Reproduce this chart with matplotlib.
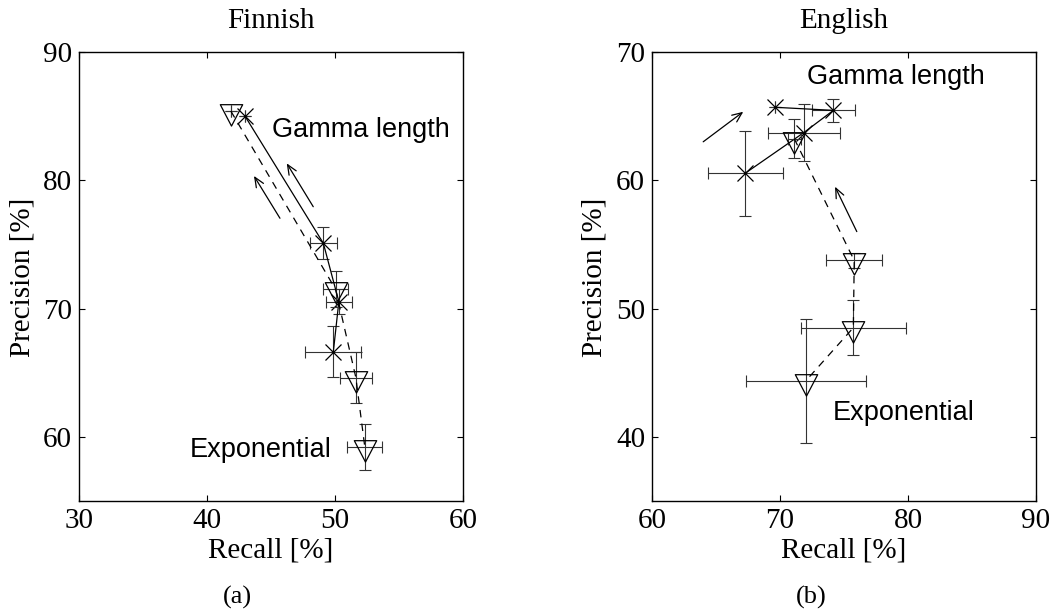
import numpy as np
import matplotlib
matplotlib.use("Agg")
import matplotlib.pyplot as plt
from matplotlib.path import Path

# ---- data ----
# Finnish, Gamma length (x markers, solid line)
fi_gam_rec = [42.97, 49.09, 50.30, 49.87]
fi_gam_pre = [85.00, 75.09, 70.54, 66.64]
fi_gam_xerr = [0.0, 1.04, 1.00, 2.20]
fi_gam_yerr = [0.0, 1.25, 1.00, 2.00]
# Finnish, Exponential (triangles, dashed line)
fi_exp_rec = [41.86, 50.05, 51.63, 52.33]
fi_exp_pre = [85.40, 71.49, 64.62, 59.20]
fi_exp_xerr = [0.0, 1.00, 1.24, 1.37]
fi_exp_yerr = [0.0, 1.40, 2.00, 1.80]

# English, Gamma length
en_gam_rec = [69.61, 74.17, 71.85, 67.27]
en_gam_pre = [65.69, 65.45, 63.71, 60.54]
en_gam_xerr = [0.0, 1.70, 2.80, 2.93]
en_gam_yerr = [0.0, 0.87, 2.20, 3.30]
# English, Exponential
en_exp_rec = [71.11, 75.80, 75.73, 72.00]
en_exp_pre = [63.25, 53.75, 48.51, 44.35]
en_exp_xerr = [0.5, 2.20, 4.10, 4.69]
en_exp_yerr = [1.55, 0.60, 2.15, 4.85]

# arrows: (x_from, y_from, x_to, y_to)
fi_arrows = [(48.3, 77.94, 46.23, 81.32), (45.7, 77.04, 43.67, 80.34)]
en_arrows = [(64.0, 63.0, 67.13, 65.34), (76.0, 56.0, 74.3, 59.5)]

# label anchors (left, middle)
fi_labels = [("Gamma length", 45.05, 83.92), ("Exponential", 38.62, 59.0)]
en_labels = [("Gamma length", 72.08, 68.08), ("Exponential", 74.1, 41.85)]

W, H = 1056, 612
serif = "Liberation Serif"
sans = "Liberation Sans"

# down triangle with its centroid on the data point (matlab style)
tri = Path([(-0.767, 0.467), (0.767, 0.467), (0.0, -1.0), (-0.767, 0.467)],
           [Path.MOVETO, Path.LINETO, Path.LINETO, Path.CLOSEPOLY])


def px(x0, y0, w, h):
    return [x0 / W, 1 - (y0 + h) / H, w / W, h / H]


def draw_series(ax, x, y, xerr, yerr, marker, ls, ms):
    ax.errorbar(x, y, xerr=xerr, yerr=yerr, fmt='none', ecolor='0.2',
                elinewidth=0.8, capsize=4.3, capthick=0.8)
    ax.plot(x, y, ls=ls, color='k', lw=0.9, dashes=(6, 5) if ls == '--' else (None, None))
    ax.plot(x, y, ls='none', marker=marker, ms=ms, mec='k', mfc='none', mew=0.9)


def setup(ax, xlim, ylim, xt, yt):
    ax.set_xlim(xlim)
    ax.set_ylim(ylim)
    ax.set_xticks(xt)
    ax.set_yticks(yt)
    ax.tick_params(direction='in', top=True, right=True, length=4, width=0.8,
                   labelsize=21, pad=5)
    for lab in ax.get_xticklabels() + ax.get_yticklabels():
        lab.set_family(serif)
    for s in ax.spines.values():
        s.set_linewidth(1.0)


fig = plt.figure(figsize=(W / 100, H / 100), dpi=100)
ax1 = fig.add_axes(px(79, 52, 384, 449))
ax2 = fig.add_axes(px(652, 52, 384, 449))

panels = [
    (ax1, (30, 60), (55, 90), [30, 40, 50, 60], [60, 70, 80, 90],
     (fi_gam_rec, fi_gam_pre, fi_gam_xerr, fi_gam_yerr),
     (fi_exp_rec, fi_exp_pre, fi_exp_xerr, fi_exp_yerr),
     fi_arrows, fi_labels, "Finnish", "(a)", 237, 23),
    (ax2, (60, 90), (35, 70), [60, 70, 80, 90], [40, 50, 60, 70],
     (en_gam_rec, en_gam_pre, en_gam_xerr, en_gam_yerr),
     (en_exp_rec, en_exp_pre, en_exp_xerr, en_exp_yerr),
     en_arrows, en_labels, "English", "(b)", 811, 595),
]

for ax, xl, yl, xt, yt, gam, exp, arrows, labels, title, tag, tagx, ylx in panels:
    setup(ax, xl, yl, xt, yt)
    draw_series(ax, *gam, marker='x', ls='-', ms=11.5)
    draw_series(ax, *exp, marker=tri, ls='--', ms=21)
    for x0, y0, x1, y1 in arrows:
        ax.annotate("", xy=(x1, y1), xytext=(x0, y0),
                    arrowprops=dict(arrowstyle='->,head_length=0.7,head_width=0.3',
                                    color='k', lw=0.9, shrinkA=0, shrinkB=0))
    for txt, x, y in labels:
        ax.text(x, y, txt, family=sans, fontsize=19.5, ha='left', va='center')
    bb = ax.get_position()
    cx = (bb.x0 + bb.x1) / 2
    fig.text(cx, 1 - 21 / H, title, family=serif, fontsize=21, ha='center', va='center')
    fig.text(cx, 1 - 550 / H, "Recall [%]", family=serif, fontsize=21, ha='center', va='center')
    fig.text(ylx / W, 1 - 277 / H, "Precision [%]", family=serif, fontsize=21,
             ha='center', va='center', rotation=90)
    fig.text(tagx / W, 1 - 597 / H, tag, family=serif, fontsize=19, ha='center', va='center')

fig.savefig("out.png", dpi=100)
